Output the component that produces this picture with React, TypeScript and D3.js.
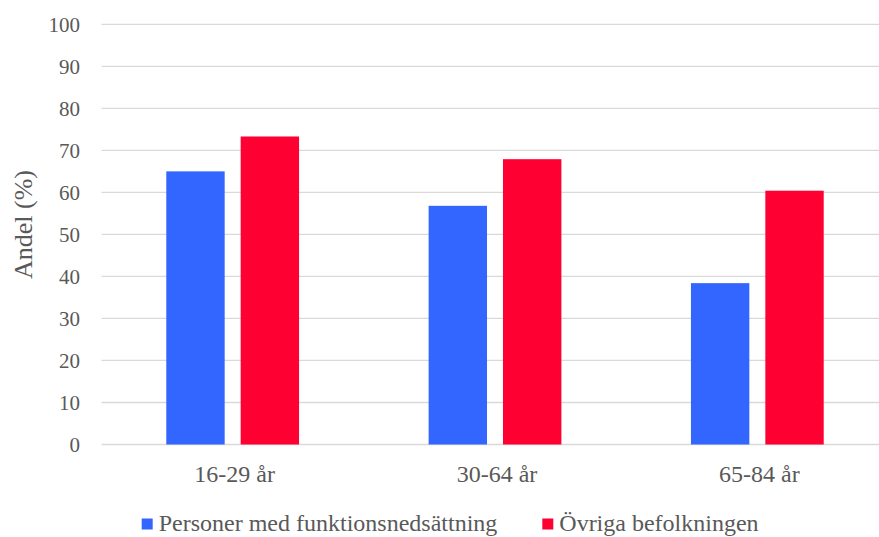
import React from "react";
import * as d3 from "d3";

const categories = ["16-29 år", "30-64 år", "65-84 år"];
const seriesNames = ["Personer med funktionsnedsättning", "Övriga befolkningen"];
const seriesA = [65.0, 56.8, 38.4];
const seriesB = [73.3, 67.9, 60.4];
const yTicks = [0, 10, 20, 30, 40, 50, 60, 70, 80, 90, 100];
const colors = ["#3366FF", "#FF0033"];

const W = 879;
const H = 537;
const FONT = "'Liberation Serif', 'DejaVu Serif', serif";

export default function App() {
  const x0 = d3.scaleBand<string>().domain(categories).range([101.5, 888.5]).paddingInner(0).paddingOuter(0);
  const x1 = d3.scaleBand<number>().domain([0, 1]).range([0, x0.bandwidth()]).paddingInner(0.215).paddingOuter(0.871);
  const y = d3.scaleLinear().domain([0, 100]).range([444.5, 24.3]);
  const series = [seriesA, seriesB];

  return (
    <svg width={W} height={H} style={{ position: "absolute", left: 0, top: 0, background: "#fff" }}>
      <g fontFamily={FONT} fill="#595959">
        {yTicks.map((t) => (
          <g key={t}>
            <line x1={101.5} x2={W} y1={y(t)} y2={y(t)} stroke="#d9d9d9" strokeWidth={1.3} />
            <text x={80} y={y(t)} dy="0.35em" textAnchor="end" fontSize={21}>{t}</text>
          </g>
        ))}
        {categories.map((c, ci) => (
          <g key={c} transform={`translate(${x0(c)},0)`}>
            {series.map((s, si) => (
              <rect key={si} x={x1(si)} width={x1.bandwidth()} y={y(s[ci])} height={y(0) - y(s[ci])} fill={colors[si]} />
            ))}
            <text x={x0.bandwidth() / 2 + 2} y={481.5} textAnchor="middle" fontSize={24}>{c}</text>
          </g>
        ))}
        <text transform="translate(32,224.5) rotate(-90)" textAnchor="middle" fontSize={26}>Andel (%)</text>
        <rect x={141.7} y={518.5} width={11} height={11} fill={colors[0]} />
        <text x={158.7} y={531} fontSize={24}>{seriesNames[0]}</text>
        <rect x={542.3} y={518.5} width={11} height={11} fill={colors[1]} />
        <text x={559.3} y={531} fontSize={24}>{seriesNames[1]}</text>
      </g>
    </svg>
  );
}
